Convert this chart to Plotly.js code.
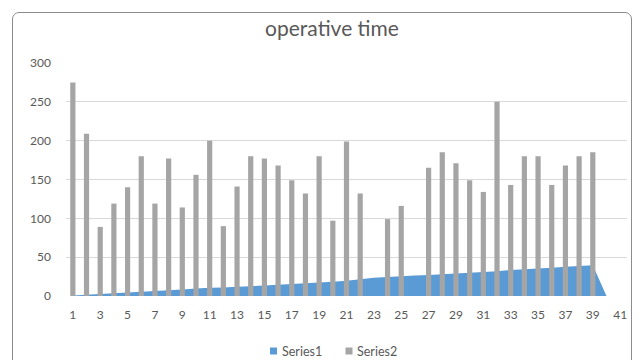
<!DOCTYPE html>
<html>
<head>
<meta charset="utf-8">
<script src="https://cdn.plot.ly/plotly-3.0.1.min.js"></script>
<style>
html,body{margin:0;padding:0;background:#fff;}
#frame{position:absolute;left:12px;top:12px;width:620px;height:360px;border:1px solid #8c8c8c;border-radius:7px;box-sizing:border-box;}
#chart{position:absolute;left:0;top:0;width:643px;height:360px;}
</style>
</head>
<body>
<div id="frame"></div>
<div id="chart"></div>
<script>
// Series1 (area)
var s1Cats = [1,2,3,4,5,6,7,8,9,10,11,12,13,14,15,16,17,18,19,20,21,22,23,24,25,26,27,28,29,30,31,32,33,34,35,36,37,38,39,40];
var s1Vals = [0.5,1.5,2.5,3.5,4.5,5.5,6.5,7.5,8.5,9.5,10.5,11,11.8,12.5,13.5,14.5,15.5,16.5,17.5,18.5,19.5,21.5,23.5,24.5,25.5,26.5,27,28,29,30,31,32,33.5,34.5,35.5,36.5,37.5,38.5,39.5,0];
// Series2 (bars)
var s2Cats = [1,2,3,4,5,6,7,8,9,10,11,12,13,14,15,16,17,18,19,20,21,22,24,25,27,28,29,30,31,32,33,34,35,36,37,38,39];
var s2Vals = [275,209,89,119,140,180,119,177,114,156,200,90,141,180,177,168,149,132,180,97,199,132,99,116,165,185,171,149,134,250,143,180,180,143,168,180,185];
var xTicks = [1,3,5,7,9,11,13,15,17,19,21,23,25,27,29,31,33,35,37,39,41];
var yTicks = [0,50,100,150,200,250,300];
var seriesNames = ['Series1','Series2'];
var seriesColors = ['#5B9BD5','#A5A5A5'];

var fontFam = 'Lato, "Noto Sans", sans-serif';
var L = 66, R = 16, T = 63, B = 64, W = 643, H = 360;
var pw = W - L - R, ph = H - T - B;
function px2x(px){ return (px - L) / pw; }
function py2y(py){ return (H - B - py) / ph; }

var traces = [
  {type:'scatter', mode:'none', name:seriesNames[0], x:s1Cats, y:s1Vals, fill:'tozeroy', fillcolor:seriesColors[0], line:{width:0}, hoverinfo:'skip', showlegend:false, yaxis:'y'},
  {type:'bar', name:seriesNames[1], x:s2Cats, y:s2Vals, marker:{color:seriesColors[1]}, width:0.38, showlegend:false, yaxis:'y2'}
];

// legend drawn as squares + text
var legSq = [270, 345.5];
var legTx = [280, 355];
var shapes = [], annotations = [];
for (var i = 0; i < seriesNames.length; i++) {
  shapes.push({type:'rect', xref:'paper', yref:'paper', x0:px2x(legSq[i]), x1:px2x(legSq[i]+7), y0:py2y(354.5), y1:py2y(347.5), fillcolor:seriesColors[i], line:{width:0}});
  annotations.push({xref:'paper', yref:'paper', x:px2x(legTx[i]), y:py2y(351), xanchor:'left', yanchor:'middle', showarrow:false, text:seriesNames[i], font:{size:12.5, color:'#595959', family:fontFam}});
}

var layout = {
  width:W, height:H,
  margin:{l:L, r:R, t:T, b:B},
  paper_bgcolor:'rgba(0,0,0,0)', plot_bgcolor:'rgba(0,0,0,0)',
  font:{family:fontFam, color:'#595959', size:12},
  title:{text:'operative time', font:{size:21, color:'#595959', family:fontFam}, x:332/643, xref:'container', xanchor:'center', y:1-29/360, yref:'container', yanchor:'middle'},
  xaxis:{range:[0.5,41.5], tickvals:xTicks, ticktext:xTicks.map(String), showgrid:false, zeroline:false, showline:false, ticks:'', tickfont:{size:12, color:'#595959'}, ticklabelstandoff:10, fixedrange:true},
  yaxis:{range:[0,300], tickvals:yTicks, showgrid:true, gridcolor:'#d9d9d9', gridwidth:1, zeroline:false, showline:false, ticks:'', tickfont:{size:12, color:'#595959'}, ticklabelstandoff:14, fixedrange:true},
  yaxis2:{range:[0,300], overlaying:'y', side:'left', showgrid:false, zeroline:false, showline:false, showticklabels:false, ticks:'', fixedrange:true},
  showlegend:false,
  bargap:0.6,
  shapes:shapes,
  annotations:annotations
};
Plotly.newPlot('chart', traces, layout, {displayModeBar:false, staticPlot:true});
</script>
</body>
</html>
